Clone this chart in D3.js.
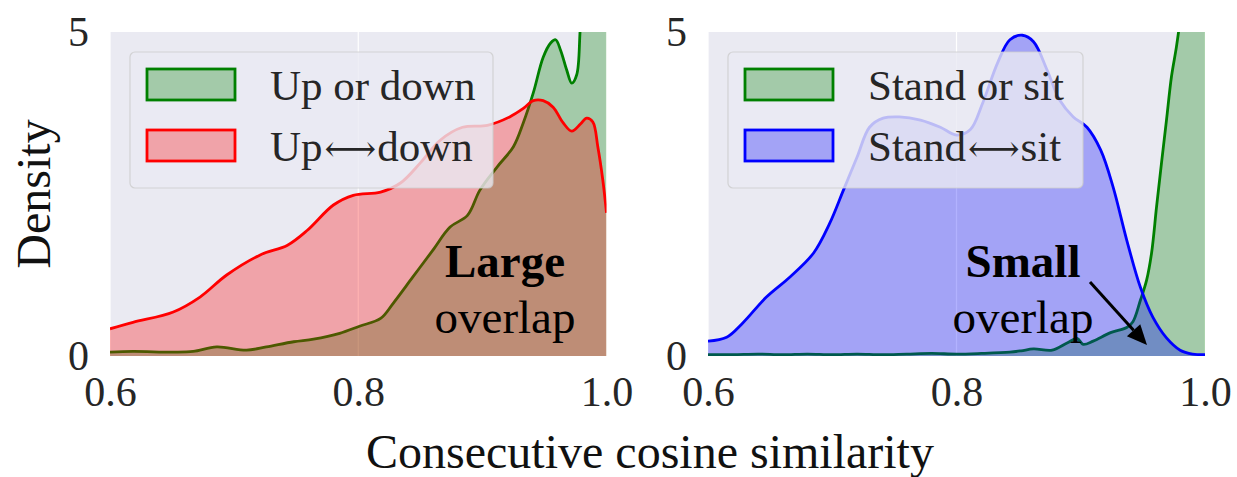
<!DOCTYPE html>
<html>
<head>
<meta charset="utf-8">
<script src="https://cdn.jsdelivr.net/npm/d3@7"></script>
<style>
  body { margin: 0; background: #fff; }
  svg text { font-family: "Liberation Serif", "Times New Roman", "DejaVu Serif", serif !important; }
</style>
</head>
<body>
<script>
const width = 1237;
const height = 477;

// x ticks and y ticks shared by both panels
const xTicks = [0.6, 0.8, 1.0];
const yTicks = [0, 5];

// left panel: "Up or down" (green) and "Up<->down" (red), [similarity, density]
const upOrDown = [
  [0.6, 0.06], [0.6185, 0.07], [0.651, 0.06], [0.667, 0.07], [0.686, 0.14], [0.71, 0.09],
  [0.726, 0.14], [0.748, 0.22], [0.764, 0.26], [0.785, 0.35], [0.801, 0.46], [0.818, 0.58],
  [0.828, 0.81], [0.844, 1.22], [0.86, 1.63], [0.874, 1.99], [0.888, 2.17], [0.898, 2.56],
  [0.912, 2.92], [0.925, 3.23], [0.933, 3.6], [0.941, 4.06], [0.949, 4.61], [0.955, 4.83],
  [0.959, 4.88], [0.963, 4.72], [0.968, 4.41], [0.972, 4.21], [0.976, 4.34], [0.979, 5.1],
  [0.985, 6.5], [0.992, 7.2], [1.0, 7.5]
];
const upToDown = [
  [0.6, 0.42], [0.6185, 0.52], [0.651, 0.68], [0.6725, 0.91], [0.694, 1.25], [0.721, 1.56],
  [0.743, 1.71], [0.759, 1.94], [0.78, 2.33], [0.796, 2.48], [0.818, 2.53], [0.834, 2.67],
  [0.85, 2.98], [0.866, 3.33], [0.884, 3.53], [0.904, 3.56], [0.922, 3.69], [0.933, 3.82],
  [0.941, 3.94], [0.949, 3.94], [0.957, 3.84], [0.965, 3.6], [0.972, 3.47], [0.979, 3.58],
  [0.984, 3.67], [0.989, 3.61], [0.993, 3.23], [0.997, 2.72], [1.0, 2.21]
];

// right panel: "Stand or sit" (green) and "Stand<->sit" (blue)
const standOrSit = [
  [0.6, 0.02], [0.62, 0.02], [0.64, 0.03], [0.66, 0.02], [0.68, 0.03], [0.7, 0.02],
  [0.72, 0.03], [0.74, 0.02], [0.76, 0.03], [0.78, 0.04], [0.8, 0.03], [0.82, 0.04],
  [0.843, 0.06], [0.852, 0.08], [0.862, 0.11], [0.877, 0.09], [0.889, 0.2], [0.897, 0.27],
  [0.902, 0.18], [0.91, 0.23], [0.924, 0.36], [0.937, 0.44], [0.942, 0.53], [0.948, 0.86],
  [0.953, 1.17], [0.957, 1.59], [0.961, 2.3], [0.965, 2.98], [0.969, 3.64], [0.973, 4.31],
  [0.977, 4.77], [0.98, 5.2], [0.986, 6.4], [0.993, 7.4], [1.0, 8.0]
];
const standToSit = [
  [0.6, 0.23], [0.615, 0.29], [0.628, 0.51], [0.647, 0.91], [0.666, 1.22], [0.685, 1.59],
  [0.698, 2.05], [0.709, 2.56], [0.72, 3.07], [0.73, 3.53], [0.741, 3.67], [0.754, 3.69],
  [0.771, 3.64], [0.787, 3.53], [0.8, 3.41], [0.811, 3.49], [0.821, 3.9], [0.833, 4.52],
  [0.843, 4.88], [0.853, 4.95], [0.862, 4.85], [0.873, 4.41], [0.883, 3.95], [0.894, 3.69],
  [0.905, 3.53], [0.916, 3.18], [0.926, 2.61], [0.937, 1.79], [0.948, 1.06], [0.958, 0.6],
  [0.969, 0.28], [0.98, 0.09], [0.99, 0.03], [1.0, 0.02]
];

const panels = [
  { x0: 110, x1: 606.5, series: [
      { data: upOrDown, color: "green", label: "Up or down" },
      { data: upToDown, color: "red", label: ["Up", "\u27F7", "down"] }
    ], legend: { x: 130, w: 363 }, note: { bold: "Large", x: 505 } },
  { x0: 708, x1: 1205, series: [
      { data: standOrSit, color: "green", label: "Stand or sit" },
      { data: standToSit, color: "blue", label: ["Stand", "\u27F7", "sit"] }
    ], legend: { x: 728, w: 355 }, note: { bold: "Small", x: 1023 } }
];

const yTop = 32, yBot = 356;
const svg = d3.select("body").append("svg")
  .attr("width", width)
  .attr("height", height);

const defs = svg.append("defs");

panels.forEach((p, i) => {
  const x = d3.scaleLinear().domain([0.6, 1.0]).range([p.x0, p.x1]);
  const y = d3.scaleLinear().domain([0, 5]).range([yBot, yTop]);
  const g = svg.append("g");

  defs.append("clipPath").attr("id", "clip" + i)
    .append("rect")
    .attr("x", p.x0).attr("y", yTop)
    .attr("width", p.x1 - p.x0).attr("height", yBot - yTop);

  g.append("rect")
    .attr("x", p.x0).attr("y", yTop)
    .attr("width", p.x1 - p.x0).attr("height", yBot - yTop)
    .attr("fill", "#eaeaf2");

  // grid
  g.selectAll(".vgrid").data(xTicks).join("line")
    .attr("x1", d => x(d)).attr("x2", d => x(d))
    .attr("y1", yTop).attr("y2", yBot)
    .attr("stroke", "white").attr("stroke-width", 1.2);

  const plot = g.append("g").attr("clip-path", `url(#clip${i})`);
  const area = d3.area().x(d => x(d[0])).y0(y(0)).y1(d => y(d[1])).curve(d3.curveCatmullRom);
  const line = d3.line().x(d => x(d[0])).y(d => y(d[1])).curve(d3.curveCatmullRom);

  p.series.forEach(s => {
    plot.append("path").datum(s.data)
      .attr("d", area)
      .attr("fill", s.color).attr("fill-opacity", 0.3);
    plot.append("path").datum(s.data)
      .attr("d", line)
      .attr("fill", "none").attr("stroke", s.color).attr("stroke-width", 2.8);
  });

  // x axis
  const xAxis = g.append("g")
    .attr("transform", `translate(0,${yBot})`)
    .call(d3.axisBottom(x).tickValues(xTicks).tickSize(0).tickFormat(d3.format(".1f")));
  xAxis.select(".domain").remove();
  xAxis.selectAll("text")
    .attr("y", 50).attr("dy", null)
    .attr("font-size", 42).attr("fill", "#262626");

  // y axis
  const yAxis = g.append("g")
    .attr("transform", `translate(${p.x0},0)`)
    .call(d3.axisLeft(y).tickValues(yTicks).tickSize(0).tickPadding(21).tickFormat(d3.format("d")));
  yAxis.select(".domain").remove();
  yAxis.selectAll("text")
    .attr("dy", "0.33em")
    .attr("font-size", 42).attr("fill", "#262626");

  // legend
  const lg = g.append("g");
  lg.append("rect")
    .attr("x", p.legend.x).attr("y", 52)
    .attr("width", p.legend.w).attr("height", 136)
    .attr("rx", 5)
    .attr("fill", "#eaeaf2").attr("fill-opacity", 0.8)
    .attr("stroke", "#cccccc").attr("stroke-opacity", 0.8).attr("stroke-width", 1.2);
  p.series.forEach((s, k) => {
    const py = 69 + k * 61;
    lg.append("rect")
      .attr("x", p.legend.x + 17).attr("y", py)
      .attr("width", 88).attr("height", 31)
      .attr("fill", s.color).attr("fill-opacity", 0.3)
      .attr("stroke", s.color).attr("stroke-width", 2.8);
    const t = lg.append("text")
      .attr("x", p.legend.x + 140).attr("y", py + 31)
      .attr("font-size", 43).attr("fill", "#262626");
    if (typeof s.label === "string") {
      t.text(s.label);
    } else {
      t.append("tspan").text(s.label[0]);
      t.append("tspan").attr("dx", 2).attr("font-size", 36).text(s.label[1]);
      t.append("tspan").attr("dx", 1).text(s.label[2]);
    }
  });

  // annotation
  g.append("text")
    .attr("x", p.note.x).attr("y", 277)
    .attr("text-anchor", "middle")
    .attr("font-size", 47).attr("font-weight", "bold")
    .text(p.note.bold);
  g.append("text")
    .attr("x", p.note.x).attr("y", 333)
    .attr("text-anchor", "middle")
    .attr("font-size", 47)
    .text("overlap");
});

// arrow pointing at the small overlap
const arrowFrom = [1090, 282], arrowTo = [1147, 345];
const ang = Math.atan2(arrowTo[1] - arrowFrom[1], arrowTo[0] - arrowFrom[0]);
const headLen = 20, headW = 9;
const base = [arrowTo[0] - headLen * Math.cos(ang), arrowTo[1] - headLen * Math.sin(ang)];
svg.append("line")
  .attr("x1", arrowFrom[0]).attr("y1", arrowFrom[1])
  .attr("x2", base[0]).attr("y2", base[1])
  .attr("stroke", "black").attr("stroke-width", 3);
svg.append("path")
  .attr("d", d3.line()([
    arrowTo,
    [base[0] + headW * Math.sin(ang), base[1] - headW * Math.cos(ang)],
    [base[0] - headW * Math.sin(ang), base[1] + headW * Math.cos(ang)]
  ]) + "Z")
  .attr("fill", "black");

// axis titles
svg.append("text")
  .attr("x", 650).attr("y", 468)
  .attr("text-anchor", "middle")
  .attr("font-size", 48).attr("fill", "#111")
  .text("Consecutive cosine similarity");

svg.append("text")
  .attr("transform", "translate(50,194) rotate(-90)")
  .attr("text-anchor", "middle")
  .attr("font-size", 48).attr("fill", "#111")
  .text("Density");
</script>
</body>
</html>
